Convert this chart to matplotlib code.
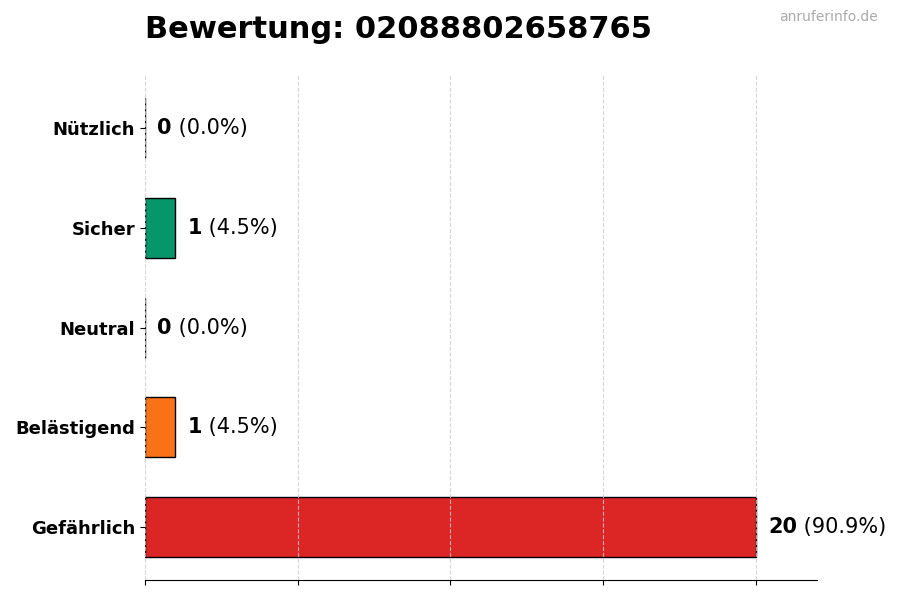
import matplotlib
matplotlib.use("Agg")
import matplotlib.pyplot as plt
import numpy as np

# daten (oben nach unten)
kategorien = ["Nützlich", "Sicher", "Neutral", "Belästigend", "Gefährlich"]
anzahl = [0, 1, 0, 1, 20]
farben = ["#9ca3af", "#059669", "#9ca3af", "#f97316", "#dc2626"]
nummer = "02088802658765"

gesamt = sum(anzahl)
y = np.arange(len(kategorien))[::-1]

fig = plt.figure(figsize=(9, 6), dpi=100)
ax = fig.add_axes([0.161, 0.033, 0.747, 0.842])

ax.barh(y, anzahl, height=0.6, color=farben, edgecolor="black", linewidth=1, zorder=2)
ax.set_xlim(0, max(anzahl) * 1.1)
ax.set_yticks(y)
ax.set_yticklabels(kategorien, fontsize=13, fontweight="bold")
ax.set_xticks(np.arange(0, max(anzahl) + 1, 5))
ax.set_xticklabels([])

ax.grid(axis="x", linestyle="--", color="#cccccc", alpha=0.8, zorder=3)
ax.set_axisbelow(False)
for s in ["top", "right", "left"]:
    ax.spines[s].set_visible(False)

for yi, wert in zip(y, anzahl):
    proz = wert / gesamt * 100
    t = ax.text(wert + 0.4, yi, str(wert), fontsize=15, fontweight="bold", va="center", zorder=4)
    ax.annotate(f" ({proz:.1f}%)", xy=(1, 0.5), xycoords=t, fontsize=15, va="center", zorder=4)

fig.text(0.161, 0.95, f"Bewertung: {nummer}", fontsize=22, fontweight="bold", va="center", ha="left")
fig.text(0.975, 0.972, "anruferinfo.de", fontsize=10, color="#aaaaaa", ha="right", va="center")

fig.savefig("out.png", dpi=100)
